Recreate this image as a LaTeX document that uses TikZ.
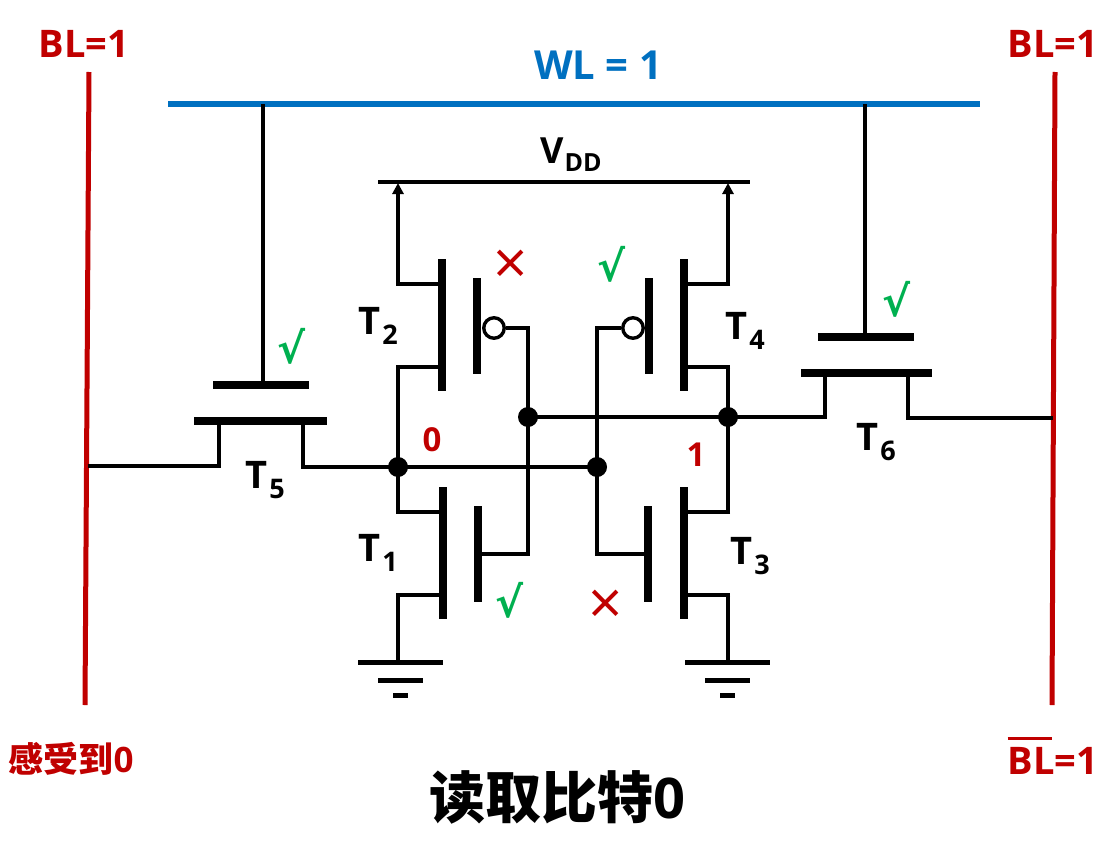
\documentclass[tikz,border=0pt]{standalone}
\usepackage{fontspec}
\setmainfont{Open Sans}
\newfontfamily\cjk{Noto Sans CJK SC}
\newfontfamily\symfont{DejaVu Sans}
\usetikzlibrary{arrows.meta}
\definecolor{bitred}{HTML}{C00000}
\definecolor{wordblue}{HTML}{0070C0}
\definecolor{okgreen}{HTML}{00B050}
\newcommand{\tname}[1]{T\kern2pt\raisebox{-10pt}{\fontsize{27}{27}\selectfont #1}}
\tikzset{
  x=1pt, y=-1pt,
  bitline/.style={line width=5pt, color=bitred},
  wordline/.style={line width=6pt, color=wordblue},
  wire/.style={line width=4.5pt, color=black},
  thinwire/.style={line width=3.4pt, color=black},
  vbar/.style={fill=black, inner sep=0pt, minimum width=8pt},
  hbar/.style={fill=black, inner sep=0pt, minimum height=8pt},
  dot/.style={circle, fill=black, inner sep=0pt, minimum size=20pt},
  bubble/.style={circle, draw=black, fill=white, line width=3.4pt, inner sep=0pt, minimum size=20.5pt},
  gndbar/.style={fill=black, inner sep=0pt, minimum height=5pt},
  lab/.style={font=\bfseries\fontsize{38}{38}\selectfont, inner sep=0pt},
  tlab/.style={font=\fontsize{38}{38}\selectfont\bfseries, inner sep=0pt},
  ok/.style={font=\symfont\bfseries\fontsize{42}{42}\selectfont, color=okgreen, inner sep=0pt},
  no/.style={font=\fontsize{60}{60}\selectfont, color=bitred, inner sep=0pt},
}
\begin{document}
\begin{tikzpicture}
\useasboundingbox (0,0) rectangle (1110,840);
% bit lines and word line
\coordinate (bltop) at (89,72);
\coordinate (blbot) at (85,705);
\coordinate (brtop) at (1055,72);
\coordinate (brbot) at (1052,705);
\coordinate (wlw) at (168,104);
\coordinate (wle) at (980,104);
\draw[bitline] (bltop) -- (blbot);
\draw[bitline] (brtop) -- (brbot);
\draw[wordline] (wlw) -- (wle);
\coordinate (vddw) at (378,182);
\coordinate (vdde) at (750,182);
\draw[wire] (vddw) -- (vdde);
% junctions
\coordinate (nzero) at (398,467);
\coordinate (none) at (728,417);
\coordinate (gzero) at (597,467);
\coordinate (gone) at (528,417);
% access transistors
\node[hbar, minimum width=96pt] (tfiveg) at (261,385) {};
\node[hbar, minimum width=133pt] (tfivec) at (260.5,421) {};
\node[hbar, minimum width=96pt] (tsixg) at (866,337) {};
\node[hbar, minimum width=131pt] (tsixc) at (866.5,373) {};
\coordinate (tfivew) at (263,104);
\coordinate (tsixw) at (865,104);
\coordinate (tfivea) at (219,421);
\coordinate (tfiveb) at (303,421);
\coordinate (tsixa) at (825,373);
\coordinate (tsixb) at (908,373);
\coordinate (blhit) at (87.5,466);
\coordinate (brhit) at (1053,418);
\draw[thinwire] (tfivew) -- (tfivew |- tfiveg);
\draw[thinwire] (tsixw) -- (tsixw |- tsixg);
\draw[wire] (blhit) -| (tfivea);
\draw[wire] (tfiveb) |- (nzero);
\draw[wire] (tsixa) |- (none);
\draw[wire] (tsixb) |- (brhit);
% cross coupled pairs
\foreach \nm/\cx/\gx/\cy/\gh in {ttwo/442/477/325/96, tfour/684/649/325/96, tone/443/478/553/96, tthree/684/648/553/96}{
  \node[vbar, minimum height=132pt] (\nm c) at (\cx,\cy) {};
  \node[vbar, minimum height=\gh pt] (\nm g) at (\gx,\cy+1) {};
}
\node[bubble] (ttwob) at (494,328) {};
\node[bubble] (tfourb) at (633,328) {};
\coordinate (ttwoa) at (396,284);
\coordinate (ttwod) at (396,367);
\coordinate (tfoura) at (730,284);
\coordinate (tfourd) at (730,367);
\coordinate (tonea) at (396,512);
\coordinate (toned) at (396,595);
\coordinate (tthreea) at (730,512);
\coordinate (tthreed) at (730,595);
\coordinate (vddl) at (398,183);
\coordinate (vddr) at (728,183);
\draw[wire] (ttwoa) -- (ttwoa -| ttwoc.west);
\draw[wire] (ttwod) -- (ttwod -| ttwoc.west);
\draw[wire] (tfoura) -- (tfoura -| tfourc.east);
\draw[wire] (tfourd) -- (tfourd -| tfourc.east);
\draw[wire] (tonea) -- (tonea -| tonec.west);
\draw[wire] (toned) -- (toned -| tonec.west);
\draw[wire] (tthreea) -- (tthreea -| tthreec.east);
\draw[wire] (tthreed) -- (tthreed -| tthreec.east);
\draw[thinwire, -{Triangle[width=11pt,length=11pt]}] (vddl |- ttwoa) -- (vddl);
\draw[thinwire, -{Triangle[width=11pt,length=11pt]}] (vddr |- tfoura) -- (vddr);
\draw[wire] (nzero |- ttwod) -- (nzero) -- (nzero |- tonea);
\draw[wire] (none |- tfourd) -- (none) -- (none |- tthreea);
\draw[wire] (nzero) -- (gzero);
\draw[wire] (gone) -- (none);
\draw[wire] (ttwob) -| (gone);
\draw[wire] (tfourb) -| (gzero);
\draw[wire] (toneg) -| (gone);
\draw[wire] (tthreeg) -| (gzero);
% grounds
\foreach \nm/\gx in {gndl/400.5, gndr/727.5}{
  \node[gndbar, minimum width=85pt] (\nm a) at (\gx,662) {};
  \node[gndbar, minimum width=45pt] (\nm b) at (\gx,680) {};
  \node[gndbar, minimum width=15pt] (\nm c) at (\gx,695) {};
}
\draw[wire] (nzero |- toned) -- (nzero |- gndla);
\draw[wire] (none |- tthreed) -- (none |- gndra);
\foreach \nm/\x in {jzero/nzero, jone/none, jtwo/gzero, jthree/gone}
  \node[dot] (\nm) at (\x) {};
% labels
\node[lab, text=bitred] (blleft) at (84,44) {BL=1};
\node[lab, text=bitred] (blright) at (1053,44) {BL=1};
\node[lab, text=wordblue, font=\bfseries\fontsize{40}{40}\selectfont] (wllab) at (598,65) {WL = 1};
\node[font=\fontsize{36}{36}\selectfont\bfseries, inner sep=0pt] (vddlab) at (571,155) {V\kern1pt\raisebox{-8pt}{\fontsize{25}{25}\selectfont DD}};
\node[text=bitred, font=\bfseries\fontsize{33}{33}\selectfont, inner sep=0pt] (zerolab) at (432,440) {0};
\node[text=bitred, font=\bfseries\fontsize{33}{33}\selectfont, inner sep=0pt] (onelab) at (696,455) {1};
\node[tlab] (ttwolab) at (378,326) {\tname{2}};
\node[tlab] (tfourlab) at (745,331) {\tname{4}};
\node[tlab] (tonelab) at (378,553) {\tname{1}};
\node[tlab] (tthreelab) at (750,556) {\tname{3}};
\node[tlab] (tfivelab) at (265,480) {\tname{5}};
\node[tlab] (tsixlab) at (876,442) {\tname{6}};
\node[ok] (oktwo) at (611,264) {√};
\node[ok] (okone) at (509,600) {√};
\node[ok] (okfive) at (292,346) {√};
\node[ok] (oksix) at (896,299) {√};
\node[no] (notwo) at (511,267) {×};
\node[no] (nothree) at (606,607) {×};
\node[text=bitred, font=\bfseries\fontsize{35}{35}\selectfont, inner sep=0pt] (senselab) at (71,759) {\cjk 感受到\rmfamily 0};
\node[lab, text=bitred] (brlab) at (1053,761) {BL=1};
\draw[line width=3pt, color=bitred] (brlab.north west |- 0,738) -- (1052,738);
\node[font=\bfseries\fontsize{56}{56}\selectfont, inner sep=0pt] (titlelab) at (557,797) {\cjk 读取比特\rmfamily 0};
\end{tikzpicture}
\end{document}
